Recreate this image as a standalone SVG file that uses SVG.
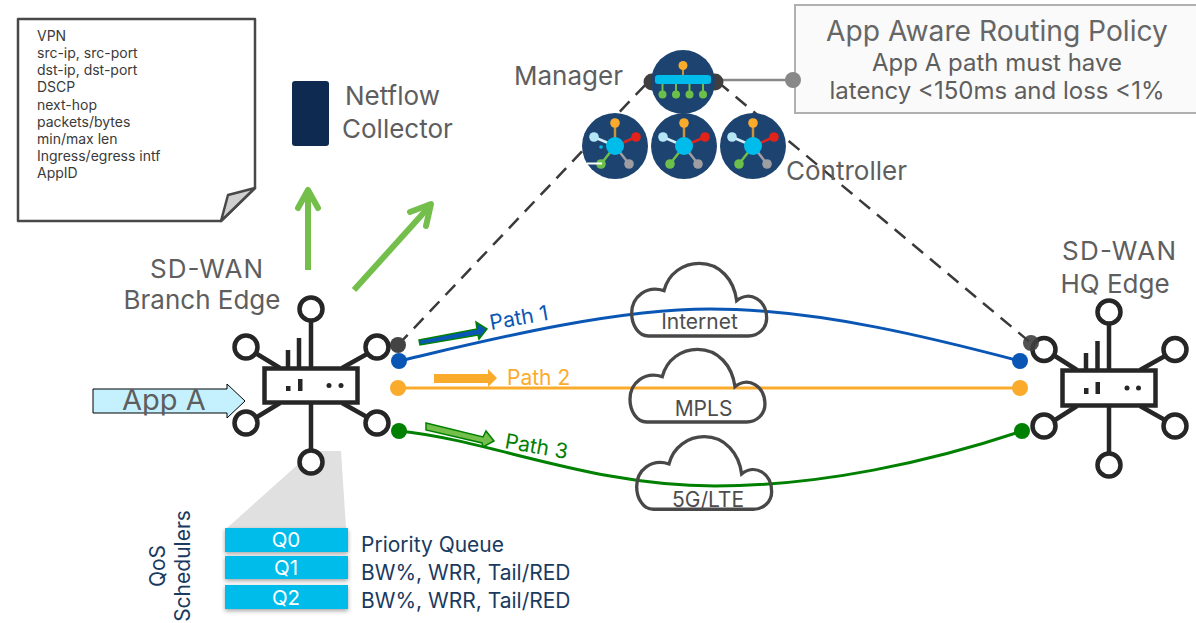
<svg xmlns="http://www.w3.org/2000/svg" width="1196" height="623" viewBox="0 0 1196 623">
<style>
text{font-family:"Inter","Liberation Sans",sans-serif}
.lbl{fill:#5e5e5e;font-size:26px}
.r{fill:none;stroke:#262626;stroke-width:4.5}
.c{fill:#fff;stroke:#262626;stroke-width:4.5}
.rf{fill:#262626}
.cloud{fill:none;stroke:#484848;stroke-width:10}
.ctext{fill:#4d4d4d;font-size:21px;text-anchor:middle}
.note{fill:#3a3a3a;font-size:14px}
.q{fill:#00bceb;filter:url(#sh)}
.qt{fill:#fff;font-size:20.500px;text-anchor:middle}
.qd{fill:#1a3a60;font-size:21px}
.dash{fill:none;stroke:#3a3a3a;stroke-width:2.500;stroke-dasharray:14 9}
.navy{fill:#1d4370}
.big{fill:#5e5e5e;font-size:26px;text-anchor:middle}
.pt{font-size:21px}
.ga{fill:none;stroke:#74bf4b;stroke-width:6;stroke-linejoin:round}
</style>
<defs>
<filter id="sh" x="-10%" y="-30%" width="120%" height="170%"><feDropShadow dx="0" dy="2" stdDeviation="2" flood-color="#000" flood-opacity=".35"/></filter>
<path id="cloudP" d="M115 258C85 258 65 225 65 190C65 140 110 105 162 122C175 70 220 40 268 40C330 40 372 90 380 152C420 120 470 150 470 205C470 235 445 258 415 258Z"/>
<g id="ctrl">
<circle class="navy" r="33"/>
<path stroke="#c8953a" stroke-width="2.500" d="M0 0V-23"/>
<path stroke="#d5f0fa" stroke-width="2.500" d="M0 0L-21 -9"/>
<path stroke="#e2231a" stroke-width="2.500" d="M0 0L21 -9"/>
<path stroke="#6cc04a" stroke-width="2.500" d="M0 0L-14 18"/>
<path stroke="#9e9ea2" stroke-width="2.500" d="M0 0L14 18"/>
<circle r="9" fill="#00bceb"/>
<circle cy="-23" r="4.800" fill="#fbab2c"/>
<circle cx="-21" cy="-9" r="4.800" fill="#b5e6f6"/>
<circle cx="21" cy="-9" r="4.800" fill="#e2231a"/>
<circle cx="-14" cy="18" r="4.800" fill="#6cc04a"/>
<circle cx="14" cy="18" r="4.800" fill="#9e9ea2"/>
</g>
</defs>
<g id="note">
<path d="M18 19H255V188L221 221H18Z" fill="#fff" stroke="#484848" stroke-width="2.500" stroke-linejoin="round"/>
<path d="M255 188L228 195L221 221Z" fill="#cfcfcf" stroke="#484848" stroke-width="2.500" stroke-linejoin="round"/>
<text class="note"><tspan x="37" y="41">VPN</tspan><tspan x="37" y="58">src-ip, src-port</tspan><tspan x="37" y="75">dst-ip, dst-port</tspan><tspan x="37" y="92">DSCP</tspan><tspan x="37" y="110">next-hop</tspan><tspan x="37" y="127">packets/bytes</tspan><tspan x="37" y="144">min/max len</tspan><tspan x="37" y="161">Ingress/egress intf</tspan><tspan x="37" y="178">AppID</tspan></text>
</g>
<g id="netflow">
<rect x="292" y="81" width="37" height="65" rx="3" fill="#0f2a50"/>
<text class="lbl"><tspan x="345" y="105">Netflow</tspan><tspan x="342" y="138">Collector</tspan></text>
</g>
<g id="policy">
<rect x="795" y="5" width="420" height="108" fill="#fafafa" stroke="#b0b0b0" stroke-width="2"/>
<text x="997" y="41" fill="#666" font-size="28.200" text-anchor="middle">App Aware Routing Policy</text>
<text x="997" y="71" fill="#5e5e5e" font-size="24" text-anchor="middle">App A path must have</text>
<text x="997" y="99" fill="#5e5e5e" font-size="24" text-anchor="middle">latency &lt;150ms and loss &lt;1%</text>
</g>
<g id="connectors">
<path class="dash" d="M398 345L648 82M718 82L1031 343"/>
<path d="M718 80H793" stroke="#888" stroke-width="2.500" fill="none"/>
<circle cx="793" cy="80" r="8" fill="#888"/>
<circle cx="652" cy="82" r="8.500" fill="#3f3f3f"/>
<circle cx="715" cy="82" r="8.500" fill="#3f3f3f"/>
<circle cx="398" cy="345" r="8" fill="#444"/>
<path d="M399 361C480 342 610 309 710 309C820 309 940 340 1020 361" fill="none" stroke="#0a56b4" stroke-width="3"/>
<path d="M398 388H1020" fill="none" stroke="#fbab2c" stroke-width="3"/>
<path d="M399 431C490 440 590 486 715 486C820 486 930 462 1022 431" fill="none" stroke="#008000" stroke-width="3"/>
<circle cx="399" cy="361" r="8" fill="#0a56b4"/>
<circle cx="398" cy="388" r="8" fill="#fbab2c"/>
<circle cx="399" cy="431" r="8" fill="#008000"/>
<circle cx="1020" cy="361" r="8" fill="#0a56b4"/>
<circle cx="1020" cy="388" r="8" fill="#fbab2c"/>
<circle cx="1022" cy="431" r="8" fill="#008000"/>
<path class="ga" d="M308 270V190"/>
<path class="ga" d="M298 208L308 190L318 208" stroke-linecap="round"/>
<path class="ga" d="M354 290L428 208"/>
<path class="ga" d="M410 212L431 204L426 226" stroke-linecap="round"/>
<path d="M419 340L477 329L476 322L487 329L479 339L478 335L420 345Z" fill="#0a56b4" stroke="#008000" stroke-width="1.500"/>
<path d="M434 374H488V369L497 378L488 387V383H434Z" fill="#fbab2c"/>
<path d="M426 423L483 437L486 431L494 441L483 447L482 443L426 430Z" fill="#74bf4b" stroke="#008000" stroke-width="1.500"/>
<path d="M93 389H227V384L245 401L227 418V413H93Z" fill="#c5f1ff" stroke="#000" stroke-width="1"/>
<path d="M227 528L313 451H341L346 528Z" fill="#e0e0e0"/>
</g>
<text class="pt" transform="translate(491 330) rotate(-10)" fill="#0a56b4">Path 1</text>
<text class="pt" x="507" y="385" fill="#fbab2c">Path 2</text>
<text class="pt" transform="translate(504 448) rotate(10)" fill="#008000">Path 3</text>
<text x="122" y="410" fill="#5e5e5e" font-size="29">App A</text>
<g id="cloud-internet" transform="translate(610 250) scale(.3333)"><use href="#cloudP" class="cloud"/></g>
<text class="ctext" x="699.500" y="329">Internet</text>
<g id="cloud-mpls" transform="translate(608.300 336) scale(.3333)"><use href="#cloudP" class="cloud"/></g>
<text class="ctext" x="703.500" y="416">MPLS</text>
<g id="cloud-5g" transform="translate(615 423.300) scale(.3333)"><use href="#cloudP" class="cloud"/></g>
<text class="ctext" x="708" y="507">5G/LTE</text>
<g id="manager">
<circle class="navy" cx="683" cy="82" r="32"/>
<path d="M683 66V80" stroke="#c8953a" stroke-width="2"/>
<path d="M662.500 84V94M676 84V94M689.500 84V94M703 84V94" stroke="#6cc04a" stroke-width="2"/>
<rect x="655" y="75" width="56" height="9" rx="3" fill="#00bceb"/>
<circle cx="683" cy="65.500" r="4.500" fill="#fbab2c"/>
<circle cx="662.500" cy="94.500" r="4" fill="#6cc04a"/>
<circle cx="676" cy="94.500" r="4" fill="#6cc04a"/>
<circle cx="689.500" cy="94.500" r="4" fill="#6cc04a"/>
<circle cx="703" cy="94.500" r="4" fill="#6cc04a"/>
<text x="514" y="85" class="lbl">Manager</text>
</g>
<g id="controllers">
<use href="#ctrl" x="615" y="146"/>
<use href="#ctrl" x="684" y="146"/>
<use href="#ctrl" x="753" y="146"/>
<path d="M587 163.500H602" stroke="#fff" stroke-width="2"/>
<circle cx="601" cy="147" r="1.800" fill="#00bceb"/>
<text x="786" y="180" class="lbl">Controller</text>
</g>
<g id="branch-edge">
<path class="r" d="M311 368V321M280 368L257 354M342 368L367 354M280 403L257 417M342 403L367 417M311 403V450M288 368V350M299 368V338"/>
<rect class="r" x="264.500" y="368.500" width="93" height="34"/>
<circle class="c" cx="311" cy="309" r="11.500"/><circle class="c" cx="246" cy="347" r="11.500"/><circle class="c" cx="377" cy="347" r="11.500"/><circle class="c" cx="246" cy="423" r="11.500"/><circle class="c" cx="377" cy="423" r="11.500"/><circle class="c" cx="311" cy="462" r="11.500"/>
<rect class="rf" x="286" y="386" width="4.500" height="5"/><rect class="rf" x="298" y="379" width="4.500" height="12"/><circle class="rf" cx="329" cy="385.500" r="2.500"/><circle class="rf" cx="341" cy="385.500" r="2.500"/>
<text class="big" x="206.500" y="278" textLength="113">SD-WAN</text><text class="big" x="202" y="309">Branch Edge</text>
</g>
<g id="hq-edge">
<path class="r" d="M1109 370V324M1077 370L1055 356M1140 370L1165 356M1077 406L1055 420M1140 406L1165 420M1109 406V453M1086 370V353M1097.500 370V341"/>
<rect class="r" x="1062.500" y="370.500" width="93" height="35"/>
<circle class="c" cx="1109" cy="312" r="11.500"/><circle class="c" cx="1044" cy="349.500" r="11.500"/><circle class="c" cx="1175" cy="349.500" r="11.500"/><circle class="c" cx="1044" cy="426" r="11.500"/><circle class="c" cx="1175" cy="426" r="11.500"/><circle class="c" cx="1109" cy="465" r="11.500"/>
<rect class="rf" x="1084" y="388" width="4.500" height="6"/><rect class="rf" x="1095.500" y="382" width="4.500" height="12"/><circle class="rf" cx="1127" cy="388" r="2.500"/><circle class="rf" cx="1138.500" cy="388" r="2.500"/>
<text class="big" x="1119" y="260" textLength="114">SD-WAN</text><text class="big" x="1115" y="293">HQ Edge</text>
</g>
<circle cx="1031" cy="343" r="8" fill="#3f3f3f" fill-opacity=".9"/>
<g id="qos">
<rect class="q" x="225" y="528" width="123" height="24"/><rect class="q" x="225" y="556" width="123" height="23"/><rect class="q" x="225" y="585" width="123" height="24"/>
<text class="qt" x="286" y="547">Q0</text><text class="qt" x="286" y="575">Q1</text><text class="qt" x="286" y="605">Q2</text>
<text class="qd" x="361" y="552">Priority Queue</text><text class="qd" x="361" y="580">BW%, WRR, Tail/RED</text><text class="qd" x="361" y="608">BW%, WRR, Tail/RED</text>
<text class="qd" transform="translate(165 566) rotate(-90)" text-anchor="middle">QoS</text>
<text class="qd" transform="translate(190 566) rotate(-90)" text-anchor="middle">Schedulers</text>
</g>
</svg>
